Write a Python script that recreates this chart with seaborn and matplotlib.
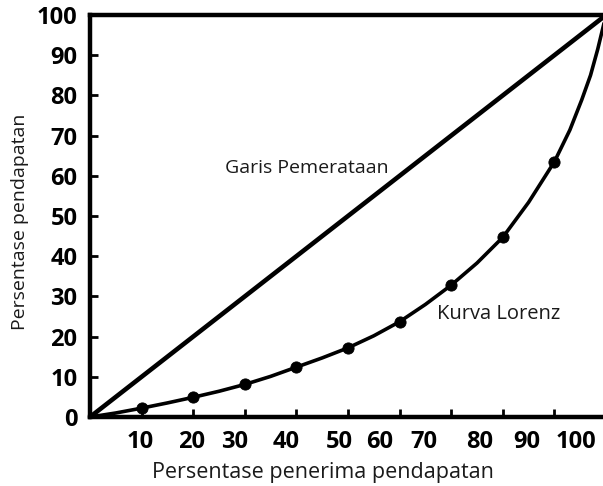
import matplotlib
matplotlib.use('Agg')
from matplotlib import pyplot as plt
from matplotlib.ticker import FixedLocator, FixedFormatter, NullFormatter
import pandas as pd
import seaborn as sns

# Lorenz curve readings (share of recipients vs share of income, %)
lorenz_x = [0, 5, 10, 15, 20, 25, 30, 35, 40, 45, 50, 55, 60, 65, 70,
            75, 80, 85, 90, 93, 95.3, 97, 98.4, 100]
lorenz_y = [0, 1.0, 2.2, 3.5, 4.9, 6.4, 8.1, 10.1, 12.4, 14.7, 17.2, 20.2,
            23.7, 28.0, 32.8, 38.3, 44.7, 53.4, 63.5, 71.4, 78.9, 85.0,
            91.5, 100]
dot_x = [10, 20, 30, 40, 50, 60, 70, 80, 90]
dot_y = [2.2, 4.9, 8.1, 12.4, 17.2, 23.7, 32.8, 44.7, 63.5]
equal_x = [0, 100]
equal_y = [0, 100]

tick_marks = [10, 20, 30, 40, 50, 60, 70, 80, 90]
x_tick_labels = ['10', '20', '30', '40', '50', '60', '70', '80', '90', '100']
y_ticks = [0, 10, 20, 30, 40, 50, 60, 70, 80, 90, 100]
y_tick_labels = ['0', '10', '20', '30', '40', '50', '60', '70', '80', '90', '100']

# the x labels in the original sit off their tick marks
x_label_pos = [9.7, 19.6, 28.1, 38.0, 48.4, 56.2, 64.7, 75.6, 84.7, 94.2]

sns.set_style('white')
plt.rcParams['font.family'] = ['Open Sans', 'DejaVu Sans']

W, H = 603, 486
fig = plt.figure(figsize=(W / 100, H / 100), dpi=100)
ax = fig.add_axes([90 / W, 1 - 417 / H, (606 - 90) / W, (417 - 15) / H])

lorenz = pd.DataFrame({'x': lorenz_x, 'y': lorenz_y})
dots = pd.DataFrame({'x': dot_x, 'y': dot_y})
equal = pd.DataFrame({'x': equal_x, 'y': equal_y})

sns.lineplot(equal, x='x', y='y', ax=ax, color='black', linewidth=3.3,
             clip_on=False)
sns.lineplot(lorenz, x='x', y='y', ax=ax, color='black', linewidth=2.6,
             sort=False, clip_on=False)
sns.scatterplot(dots, x='x', y='y', ax=ax, color='black', s=65,
                edgecolor='black', zorder=5)

ax.set_xlim(0, 100)
ax.set_ylim(0, 100)

for side in ['left', 'bottom', 'top']:
    ax.spines[side].set_linewidth(3.2)
    ax.spines[side].set_color('black')
ax.spines['right'].set_visible(False)

ax.xaxis.set_major_locator(FixedLocator(tick_marks))
ax.xaxis.set_major_formatter(NullFormatter())
ax.xaxis.set_minor_locator(FixedLocator(x_label_pos))
ax.xaxis.set_minor_formatter(FixedFormatter(x_tick_labels))
ax.tick_params(axis='x', which='major', direction='in', length=6,
               width=2, color='black', bottom=True)
ax.tick_params(axis='x', which='minor', length=0, pad=9, labelsize=17,
               labelcolor='black', bottom=True)
for lab in ax.get_xticklabels(minor=True):
    lab.set_fontweight('bold')

ax.set_yticks(y_ticks)
ax.set_yticklabels(y_tick_labels, fontweight='bold')
ax.tick_params(axis='y', direction='in', length=6, width=2,
               color='black', left=True, pad=9, labelsize=17,
               labelcolor='black')

ax.set_xlabel('Persentase penerima pendapatan', fontsize=15.5, color='#1a1a1a')
ax.xaxis.label.set_va('center')
ax.xaxis.set_label_coords(0.4516, -0.137)
ax.set_ylabel('Persentase pendapatan', fontsize=14, color='#1a1a1a')
ax.yaxis.label.set_va('center')
ax.yaxis.set_label_coords(-0.1357, 0.486)

ax.text(26.2, 62, 'Garis Pemerataan', fontsize=14, color='#1a1a1a',
        ha='left', va='center')
ax.text(67.2, 25.5, 'Kurva Lorenz', fontsize=14.5, color='#1a1a1a',
        ha='left', va='center')

fig.savefig('out.png', dpi=100)
plt.close()
